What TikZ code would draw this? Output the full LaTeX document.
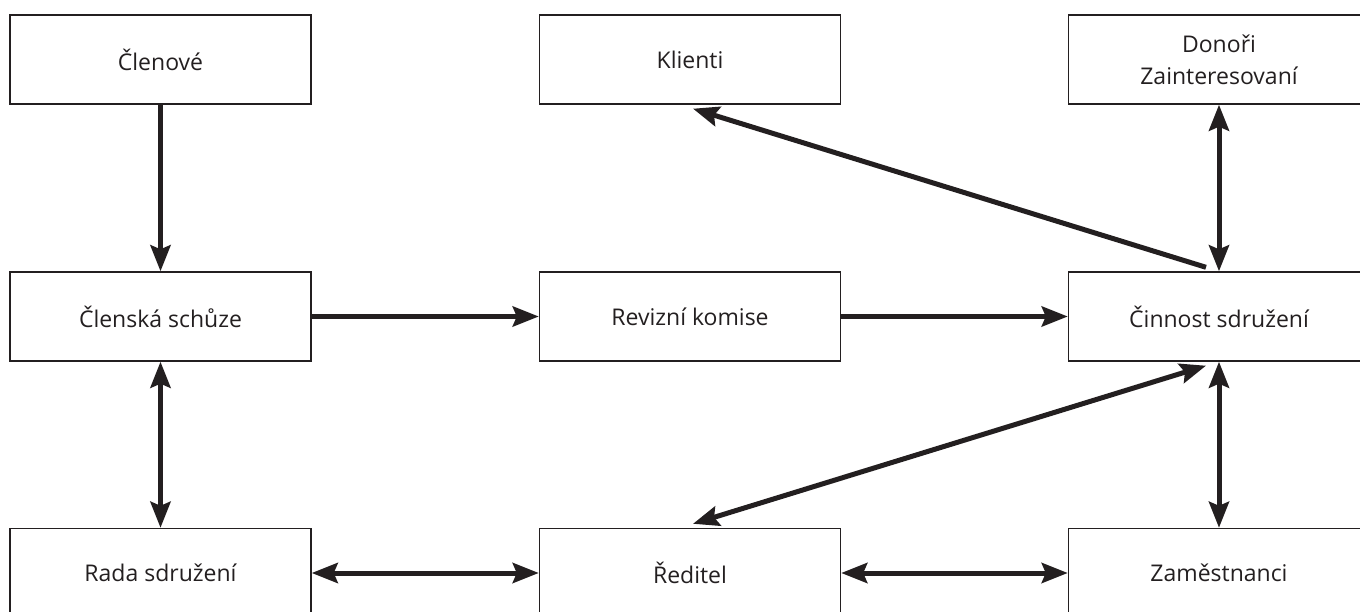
\documentclass[tikz,border=0pt]{standalone}
\usepackage{fontspec}
\setmainfont{Open Sans}
\usetikzlibrary{arrows.meta}

\definecolor{ink}{HTML}{231F20}

\begin{document}
\begin{tikzpicture}[x=1pt, y=-1pt, >={Stealth[length=26pt,width=20pt,inset=4pt]},
    box/.style={draw=ink, line width=1.4pt, minimum width=301pt, minimum height=89pt,
        inner sep=0pt, align=center, text=ink, font=\fontsize{23}{32}\selectfont},
    link/.style={draw=ink, line width=5pt}]
    % rozměr obrázku
    \clip (0,0) rectangle (1360,612);

    % horní řada
    \node[box] (clenove) at (160.5,59.5) {Členové};
    \node[box] (klienti) at (690,59.5) {Klienti};
    \node[box] (donori) at (1219,59.5) {Donoři\\Zainteresovaní};

    % prostřední řada
    \node[box] (schuze) at (160.5,316.5) {Členská schůze};
    \node[box] (revize) at (690,316.5) {Revizní komise};
    \node[box] (cinnost) at (1219,316.5) {Činnost sdružení};

    % dolní řada
    \node[box] (rada) at (160.5,573) {Rada sdružení};
    \node[box] (reditel) at (690,573) {Ředitel};
    \node[box] (zamest) at (1219,573) {Zaměstnanci};

    % šipky
    \draw[link,->] (clenove.south) -- (schuze.north);
    \draw[link,->] (schuze.east) -- (revize.west);
    \draw[link,->] (revize.east) -- (cinnost.west);
    \draw[link,<->] (schuze.south) -- (rada.north);
    \draw[link,<->] (rada.east) -- (reditel.west);
    \draw[link,<->] (reditel.east) -- (zamest.west);
    \draw[link,<->] (donori.south) -- (cinnost.north);
    \draw[link,<->] (cinnost.south) -- (zamest.north);
    \draw[link,->] ([xshift=-13pt,yshift=4pt]cinnost.north) -- ([xshift=3pt,yshift=-4pt]klienti.south);
    \draw[link,<->] ([xshift=3pt,yshift=4pt]reditel.north) -- ([xshift=-13pt,yshift=-4pt]cinnost.south);
\end{tikzpicture}
\end{document}
